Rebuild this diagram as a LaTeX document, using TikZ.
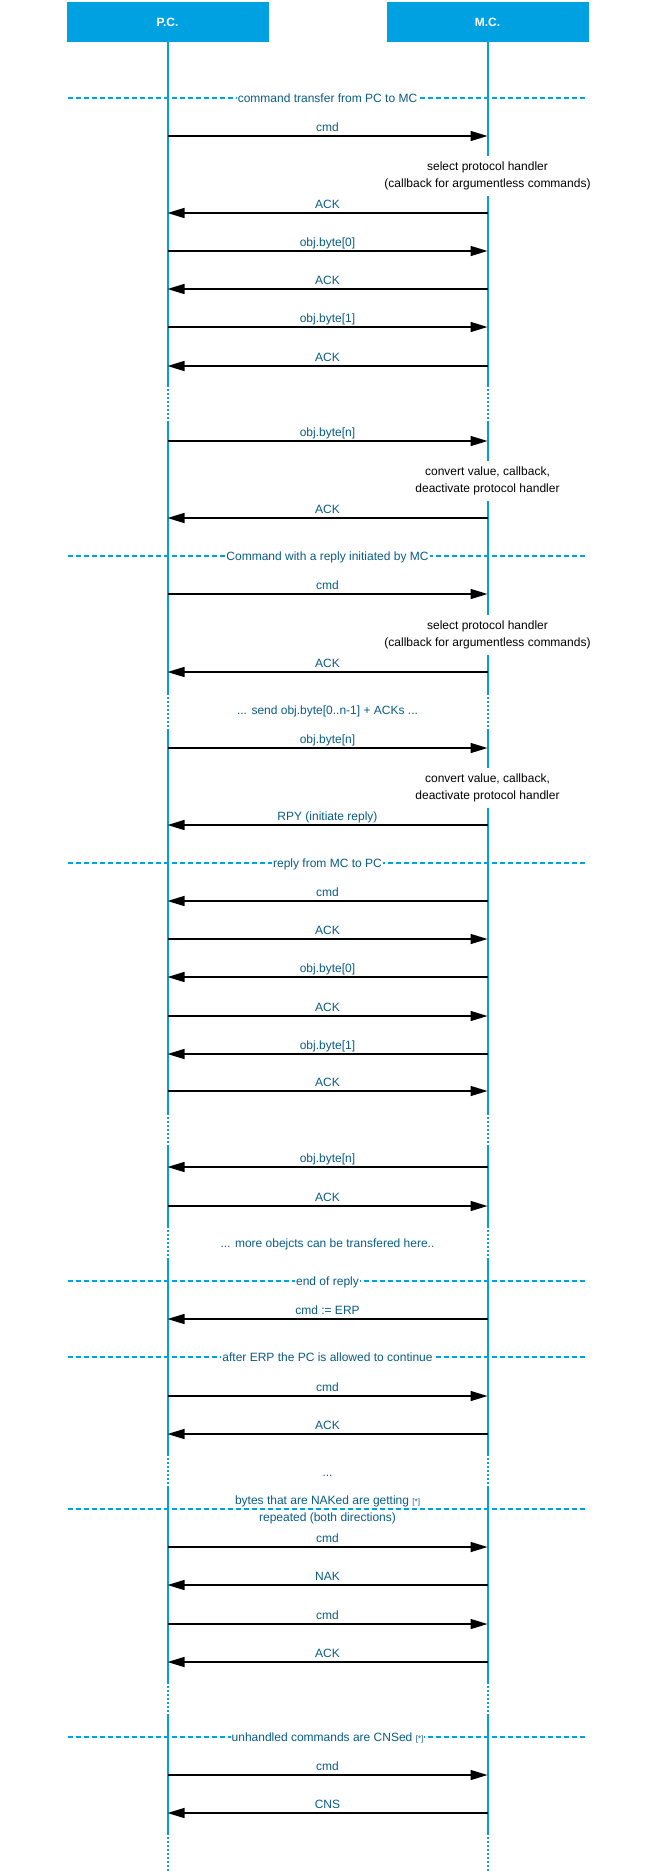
\documentclass[tikz,border=0pt]{standalone}
\usepackage{fontspec}
\setmainfont{Liberation Sans}
\usetikzlibrary{arrows.meta}
\definecolor{lifeblue}{RGB}{0,161,224}
\definecolor{labelblue}{HTML}{095C86}

\begin{document}
\begin{tikzpicture}[x=1pt,y=-1pt,
  every node/.style={font=\fontsize{12}{14.4}\selectfont},
  actor/.style={fill=lifeblue, text=white, font=\fontsize{12}{14.4}\selectfont\bfseries,
    minimum width=202pt, minimum height=40pt, inner sep=0pt},
  lifeline/.style={lifeblue, line width=2pt},
  lifegap/.style={lifeblue, line width=2pt, dash pattern=on 2pt off 2pt},
  msg/.style={line width=1.5pt, -{Triangle[length=17pt,width=10pt]}},
  msglabel/.style={text=labelblue, anchor=base, yshift=4.5pt, inner sep=0pt},
  sepline/.style={lifeblue, line width=2pt, dash pattern=on 5pt off 3pt},
  seplabel/.style={text=labelblue, fill=white, anchor=base, yshift=-4.3pt, inner sep=1pt},
  notebox/.style={fill=white, align=center, text=black, inner xsep=2pt,
    minimum height=40pt, font=\fontsize{12}{17}\selectfont},
  gaptext/.style={text=labelblue, anchor=base, yshift=-4.3pt, inner sep=0pt}
]
\useasboundingbox (0,0) rectangle (656,1872);

% participants
\node[actor] (pc) at (167.5,22) {P.C.};
\node[actor] (mc) at (487.5,22) {M.C.};

% lifelines: solid runs and dotted breaks
\foreach \a/\b [count=\i] in {42/385, 421/693, 729/1113, 1146/1226, 1260/1454, 1488/1682, 1716/1833} {
  \coordinate (pcs\i) at (pc |- 0,\a); \coordinate (pce\i) at (pc |- 0,\b);
  \coordinate (mcs\i) at (mc |- 0,\a); \coordinate (mce\i) at (mc |- 0,\b);
  \draw[lifeline] (pcs\i) -- (pce\i);
  \draw[lifeline] (mcs\i) -- (mce\i);
}
\foreach \a/\b [count=\i] in {385/421, 693/729, 1113/1146, 1226/1260, 1454/1488, 1682/1716, 1833/1872} {
  \coordinate (pcgs\i) at (pc |- 0,\a); \coordinate (pcge\i) at (pc |- 0,\b);
  \coordinate (mcgs\i) at (mc |- 0,\a); \coordinate (mcge\i) at (mc |- 0,\b);
  \draw[lifegap] (pcgs\i) -- (pcge\i);
  \draw[lifegap] (mcgs\i) -- (mcge\i);
}

% section separators
\foreach \y/\t [count=\i] in {98/command transfer from PC to MC,
    556/Command with a reply initiated by MC,
    863/reply from MC to PC,
    1281/end of reply,
    1357/after ERP the PC is allowed to continue,
    1737/{unhandled commands are CNSed {\fontsize{8}{9}\selectfont[*]}}} {
  \coordinate (sepl\i) at (68,\y);
  \coordinate (sepr\i) at (585,\y);
  \draw[sepline] (sepl\i) -- (sepr\i);
  \node[seplabel] (sept\i) at (327.5,\y) {\t};
}
\coordinate (sepl7) at (68,1509);
\coordinate (sepr7) at (585,1509);
\draw[sepline] (sepl7) -- (sepr7);
\node[text=labelblue, align=center, font=\fontsize{12}{17}\selectfont, inner sep=0pt] (sept7)
  at (327.5,1509.5) {bytes that are NAKed are getting {\fontsize{8}{9}\selectfont[*]}\\repeated (both directions)};

% handler notes on the M.C. side
\node[notebox] (note1) at (mc |- 0,175.5) {select protocol handler\\(callback for argumentless commands)};
\node[notebox] (note2) at (mc |- 0,480.5) {convert value, callback,\\deactivate protocol handler};
\node[notebox] (note3) at (mc |- 0,634.5) {select protocol handler\\(callback for argumentless commands)};
\node[notebox] (note4) at (mc |- 0,787.5) {convert value, callback,\\deactivate protocol handler};

% texts in the dotted breaks
\node[gaptext] (gap1) at (327.5,710) {... send obj.byte[0..n-1] + ACKs ...};
\node[gaptext] (gap2) at (327.5,1243) {... more obejcts can be transfered here..};
\node[gaptext] (gap3) at (327.5,1472) {...};

% messages from P.C. to M.C.
\foreach \y/\t [count=\i] in {136/cmd, 251/obj.byte[0], 327/obj.byte[1], 441/obj.byte[n],
    594/cmd, 748/obj.byte[n], 939/ACK, 1016/ACK, 1091/ACK, 1206/ACK,
    1396/cmd, 1547/cmd, 1624/cmd, 1775/cmd} {
  \coordinate (rp\i) at (pc |- 0,\y);
  \coordinate (rm\i) at (mc |- 0,\y);
  \draw[msg] (rp\i) -- (rm\i) node[midway, msglabel] {\t};
}

% messages from M.C. to P.C.
\foreach \y/\t [count=\i] in {213/ACK, 289/ACK, 366/ACK, 518/ACK, 672/ACK,
    825/RPY (initiate reply), 901/cmd, 977/obj.byte[0], 1054/obj.byte[1],
    1167/obj.byte[n], 1319/cmd := ERP, 1434/ACK, 1585/NAK, 1662/ACK, 1813/CNS} {
  \coordinate (lm\i) at (mc |- 0,\y);
  \coordinate (lp\i) at (pc |- 0,\y);
  \draw[msg] (lm\i) -- (lp\i) node[midway, msglabel] {\t};
}
\end{tikzpicture}
\end{document}
